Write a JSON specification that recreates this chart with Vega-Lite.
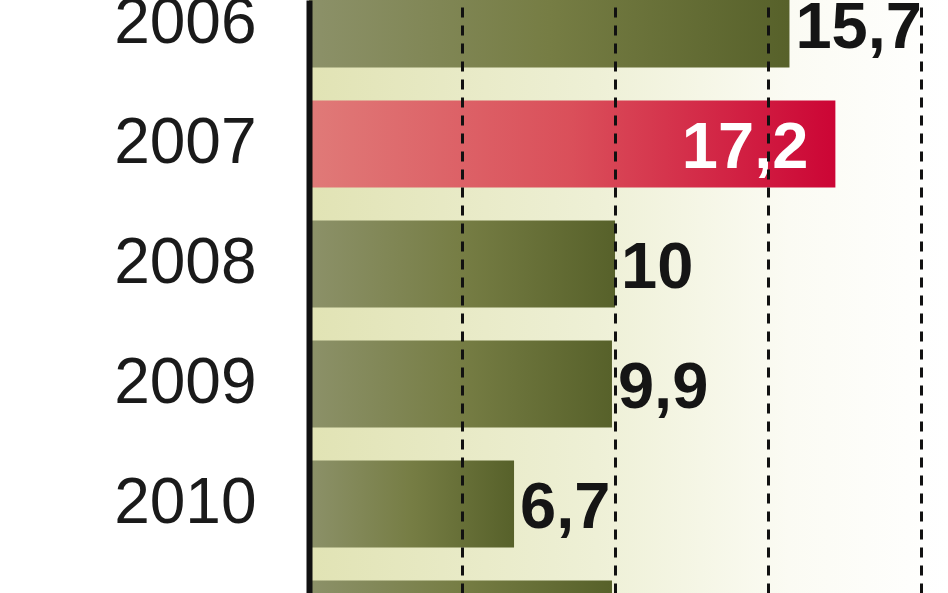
{
  "$schema": "https://vega.github.io/schema/vega-lite/v6.json",
  "width": 639,
  "height": 593,
  "autosize": {"type": "none"},
  "padding": {"left": 309, "top": 0, "right": 0, "bottom": 0},
  "background": "white",
  "config": {
    "view": {"stroke": null},
    "locale": {"number": {"decimal": ",", "thousands": " ", "grouping": [3], "currency": ["", " zł"]}}
  },
  "data": {
    "values": [
      {"year": 2006, "value": 15.7, "highlight": "no"},
      {"year": 2007, "value": 17.2, "highlight": "yes"},
      {"year": 2008, "value": 10, "highlight": "no"},
      {"year": 2009, "value": 9.9, "highlight": "no"},
      {"year": 2010, "value": 6.7, "highlight": "no"},
      {"year": 2011, "value": 9.9, "highlight": "no"}
    ]
  },
  "layer": [
    {
      "data": {"values": [{}]},
      "mark": {
        "type": "rect",
        "fill": {
          "gradient": "linear",
          "x1": 0, "y1": 0, "x2": 1, "y2": 0,
          "stops": [
            {"offset": 0, "color": "#e1e3b4"},
            {"offset": 0.45, "color": "#eef0d6"},
            {"offset": 0.75, "color": "#fbfbf3"},
            {"offset": 1, "color": "#ffffff"}
          ]
        }
      },
      "encoding": {}
    },
    {
      "transform": [{"filter": "datum.highlight == 'no'"}],
      "mark": {
        "type": "bar",
        "orient": "horizontal",
        "size": 87,
        "clip": true,
        "fill": {
          "gradient": "linear",
          "x1": 0, "y1": 0, "x2": 1, "y2": 0,
          "stops": [
            {"offset": 0, "color": "#8c9169"},
            {"offset": 0.5, "color": "#767d44"},
            {"offset": 1, "color": "#57612a"}
          ]
        }
      },
      "encoding": {
        "y": {
          "field": "year", "type": "quantitative",
          "scale": {"domain": [2005.8, 2010.7417], "reverse": true, "nice": false, "zero": false, "padding": 0},
          "axis": {
            "values": [2006, 2007, 2008, 2009, 2010],
            "format": "d",
            "domain": true, "domainColor": "#111111", "domainWidth": 6,
            "ticks": false, "grid": false,
            "labelFont": "Liberation Sans", "labelFontSize": 64, "labelColor": "#1a1a1a",
            "labelPadding": 53, "labelBound": false, "labelOverlap": false, "title": null, "zindex": 1
          }
        },
        "x": {
          "field": "value", "type": "quantitative",
          "scale": {"domain": [0, 20.88], "nice": false, "padding": 0},
          "axis": {
            "values": [5, 10, 15, 20],
            "grid": true, "gridColor": "#111111", "gridDash": [10, 8], "gridWidth": 3,
            "domain": false, "ticks": false, "labels": false, "title": null, "zindex": 1
          }
        }
      }
    },
    {
      "transform": [{"filter": "datum.highlight == 'yes'"}],
      "mark": {
        "type": "bar",
        "orient": "horizontal",
        "size": 87,
        "clip": true,
        "fill": {
          "gradient": "linear",
          "x1": 0, "y1": 0, "x2": 1, "y2": 0,
          "stops": [
            {"offset": 0, "color": "#e07a78"},
            {"offset": 0.5, "color": "#da4f5a"},
            {"offset": 1, "color": "#cc0535"}
          ]
        }
      },
      "encoding": {
        "y": {"field": "year", "type": "quantitative"},
        "x": {"field": "value", "type": "quantitative"}
      }
    },
    {
      "transform": [{"filter": "datum.highlight == 'no'"}],
      "mark": {
        "type": "text", "align": "left", "baseline": "middle", "dx": 6, "dy": 4,
        "font": "Liberation Sans", "fontWeight": "bold", "fontSize": 65,
        "color": "#151515", "clip": true
      },
      "encoding": {
        "y": {"field": "year", "type": "quantitative"},
        "x": {"field": "value", "type": "quantitative"},
        "text": {"field": "value", "type": "quantitative", "format": ".1~f"}
      }
    },
    {
      "transform": [{"filter": "datum.highlight == 'yes'"}],
      "mark": {
        "type": "text", "align": "right", "baseline": "middle", "dx": -27, "dy": 4,
        "font": "Liberation Sans", "fontWeight": "bold", "fontSize": 65,
        "color": "#ffffff", "clip": true
      },
      "encoding": {
        "y": {"field": "year", "type": "quantitative"},
        "x": {"field": "value", "type": "quantitative"},
        "text": {"field": "value", "type": "quantitative", "format": ".1~f"}
      }
    }
  ]
}
